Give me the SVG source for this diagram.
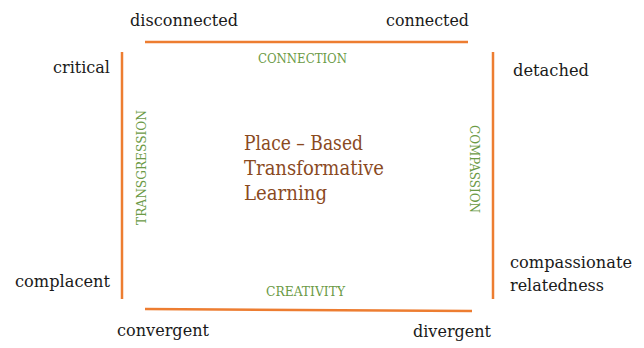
<svg xmlns="http://www.w3.org/2000/svg" width="644" height="348" viewBox="0 0 644 348">
<style>
.lbl{font-family:"DejaVu Serif","Liberation Serif",serif;font-size:17px;fill:#1a1a1a}
.axis{font-family:"DejaVu Serif","Liberation Serif",serif;font-size:13px;fill:#6b9a45}
.center{font-family:"DejaVu Serif","Liberation Serif",serif;font-size:20px;fill:#8a4a1f}
.edge{stroke:#ed7d31;stroke-width:2.5;fill:none}
</style>
<rect width="644" height="348" fill="#ffffff"/>
<g id="connectors">
<line class="edge" x1="145" y1="42" x2="468" y2="42"/>
<line class="edge" x1="122" y1="52" x2="122" y2="299"/>
<line class="edge" x1="493" y1="52" x2="493" y2="299"/>
<line class="edge" x1="145" y1="309" x2="472" y2="311"/>
</g>
<g id="corner-labels">
<text class="lbl" x="130" y="26" textLength="108" lengthAdjust="spacingAndGlyphs">disconnected</text>
<text class="lbl" x="386" y="26" textLength="83" lengthAdjust="spacingAndGlyphs">connected</text>
<text class="lbl" x="53" y="73" textLength="57" lengthAdjust="spacingAndGlyphs">critical</text>
<text class="lbl" x="513" y="76" textLength="76" lengthAdjust="spacingAndGlyphs">detached</text>
<text class="lbl" x="15" y="287" textLength="95" lengthAdjust="spacingAndGlyphs">complacent</text>
<text class="lbl" x="510" y="268" textLength="122" lengthAdjust="spacingAndGlyphs">compassionate</text>
<text class="lbl" x="510" y="291" textLength="94" lengthAdjust="spacingAndGlyphs">relatedness</text>
<text class="lbl" x="117" y="336" textLength="92" lengthAdjust="spacingAndGlyphs">convergent</text>
<text class="lbl" x="413" y="337" textLength="78" lengthAdjust="spacingAndGlyphs">divergent</text>
</g>
<g id="axis-labels">
<text class="axis" x="258" y="63" textLength="89" lengthAdjust="spacingAndGlyphs">CONNECTION</text>
<text class="axis" x="266" y="296" textLength="79" lengthAdjust="spacingAndGlyphs">CREATIVITY</text>
<text class="axis" transform="translate(146,225) rotate(-90)" x="0" y="0" textLength="115" lengthAdjust="spacingAndGlyphs">TRANSGRESSION</text>
<text class="axis" transform="translate(470,125) rotate(90)" x="0" y="0" textLength="88" lengthAdjust="spacingAndGlyphs">COMPASSION</text>
</g>
<g id="center">
<text class="center" x="244" y="150" textLength="119" lengthAdjust="spacingAndGlyphs">Place – Based</text>
<text class="center" x="244" y="175" textLength="140" lengthAdjust="spacingAndGlyphs">Transformative</text>
<text class="center" x="244" y="200" textLength="83" lengthAdjust="spacingAndGlyphs">Learning</text>
</g>
</svg>
